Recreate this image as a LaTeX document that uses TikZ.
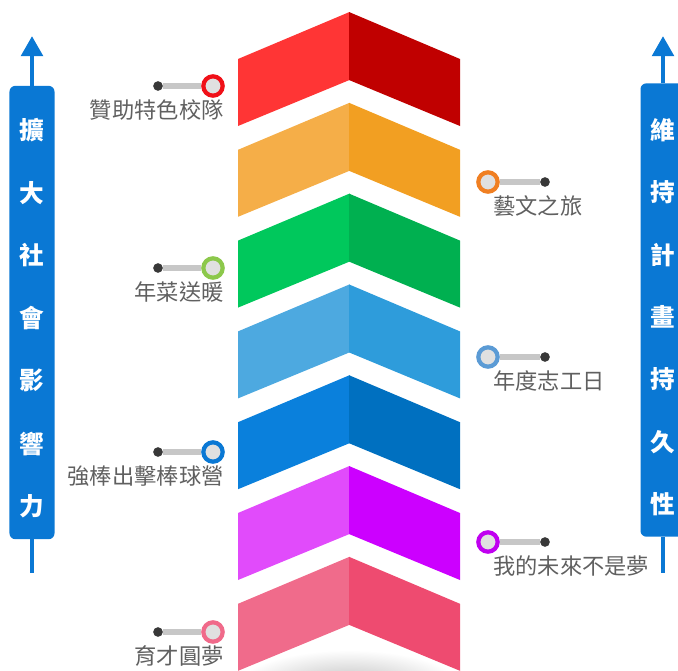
\documentclass[tikz,border=0pt]{standalone}
\usepackage{fontspec}
\usepackage{xcolor}
\usepackage{tikz}
\usetikzlibrary{arrows.meta, positioning, calc, backgrounds}
\newfontfamily\cjk{Noto Sans CJK TC}

\definecolor{redL}{HTML}{FF3535}
\definecolor{redR}{HTML}{C00000}
\definecolor{orangeL}{HTML}{F5AE48}
\definecolor{orangeR}{HTML}{F29F22}
\definecolor{greenL}{HTML}{00C85C}
\definecolor{greenR}{HTML}{00B050}
\definecolor{skyL}{HTML}{4DA9E0}
\definecolor{skyR}{HTML}{2E9CDB}
\definecolor{blueL}{HTML}{0A80DC}
\definecolor{blueR}{HTML}{0070C0}
\definecolor{purpleL}{HTML}{E14BFB}
\definecolor{purpleR}{HTML}{CC00FF}
\definecolor{pinkL}{HTML}{F06B8B}
\definecolor{pinkR}{HTML}{EE4B70}
\definecolor{sideblue}{HTML}{0A78D4}
\definecolor{ringred}{HTML}{F01018}
\definecolor{ringorange}{HTML}{F07F22}
\definecolor{ringgreen}{HTML}{8CC84B}
\definecolor{ringsky}{HTML}{5B9BD5}
\definecolor{ringpurple}{HTML}{C000F0}
\definecolor{ringpink}{HTML}{F06A8A}
\definecolor{textgray}{HTML}{606060}

\begin{document}
\begin{tikzpicture}[
    x=0.03cm, y=-0.03cm,
    sidebox/.style={
        rectangle, fill=sideblue, rounded corners=5pt,
        minimum width=1.35cm, minimum height=13.6cm, inner sep=0
    },
    sidechar/.style={font=\cjk\fontsize{21pt}{24pt}\selectfont\bfseries, text=white},
    uparrow/.style={draw=sideblue, line width=4.2pt, -{Triangle[width=0.63cm, length=0.6cm]}},
    tail/.style={draw=sideblue, line width=4.2pt},
    dot/.style={circle, fill=black!78, minimum size=0.29cm, inner sep=0},
    ring/.style={circle, draw=#1, line width=3.6pt, fill=black!12, minimum size=0.58cm, inner sep=0},
    bar/.style={draw=black!22!white, line width=5.6pt},
    label/.style={font=\cjk\fontsize{19pt}{22pt}\selectfont, text=textgray, inner sep=0}
]
\clip (0,0) rectangle (678,670);

% ── Shadow under the arrow stack ──
\shade[inner color=black!28, outer color=white] (349,690) ellipse [x radius=115, y radius=40];

% ── Chevron stack ──
\foreach \lc/\rc [count=\i] in {redL/redR, orangeL/orangeR, greenL/greenR, skyL/skyR,
                                blueL/blueR, purpleL/purpleR, pinkL/pinkR} {
    \pgfmathsetmacro\t{12+(\i-1)*90.8}
    \fill[\lc] (238,\t+47) -- (349.5,\t) -- (349.5,\t+68) -- (238,\t+114) -- cycle;
    \fill[\rc] (349,\t) -- (460,\t+47) -- (460,\t+114) -- (349,\t+68) -- cycle;
}

% ── Left bar ──
\node[sidebox] (lbar) at (32,312.5) {};
\coordinate (ltip) at (32,36);
\coordinate (lend) at (32,573);
\draw[uparrow] (lbar.north) -- (ltip);
\draw[tail] (lbar.south) -- (lend);
\foreach \c [count=\i] in {擴,大,社,會,影,響,力}
    \node[sidechar] (l\i) at (32,{130+(\i-1)*62.7}) {\c};

% ── Right bar ──
\node[sidebox] (rbar) at (663,310) {};
\coordinate (rtip) at (663,36);
\coordinate (rend) at (663,573);
\draw[uparrow] (rbar.north) -- (rtip);
\draw[tail] (rbar.south) -- (rend);
\foreach \c [count=\i] in {維,持,計,畫,持,久,性}
    \node[sidechar] (r\i) at (663,{130+(\i-1)*62.4}) {\c};

% ── Left callouts ──
\foreach \y/\c/\txt [count=\i] in {86/ringred/贊助特色校隊, 268/ringgreen/年菜送暖,
                                   452/sideblue/強棒出擊棒球營, 632/ringpink/育才圓夢} {
    \node[dot] (ld\i) at (158,\y) {};
    \node[ring=\c] (lr\i) at (213,\y) {};
    \begin{scope}[on background layer]
        \draw[bar] (ld\i) -- (lr\i);
    \end{scope}
    \node[label, anchor=east] (lt\i) at ($(lr\i.east)+(-1,24)$) {\txt};
}

% ── Right callouts ──
\foreach \y/\c/\txt [count=\i] in {182/ringorange/藝文之旅, 357/ringsky/年度志工日,
                                   542/ringpurple/我的未來不是夢} {
    \node[dot] (rd\i) at (545,\y) {};
    \node[ring=\c] (rr\i) at (488,\y) {};
    \begin{scope}[on background layer]
        \draw[bar] (rr\i) -- (rd\i);
    \end{scope}
    \node[label, anchor=west] (rt\i) at ($(rr\i)+(5,24)$) {\txt};
}

\end{tikzpicture}
\end{document}
